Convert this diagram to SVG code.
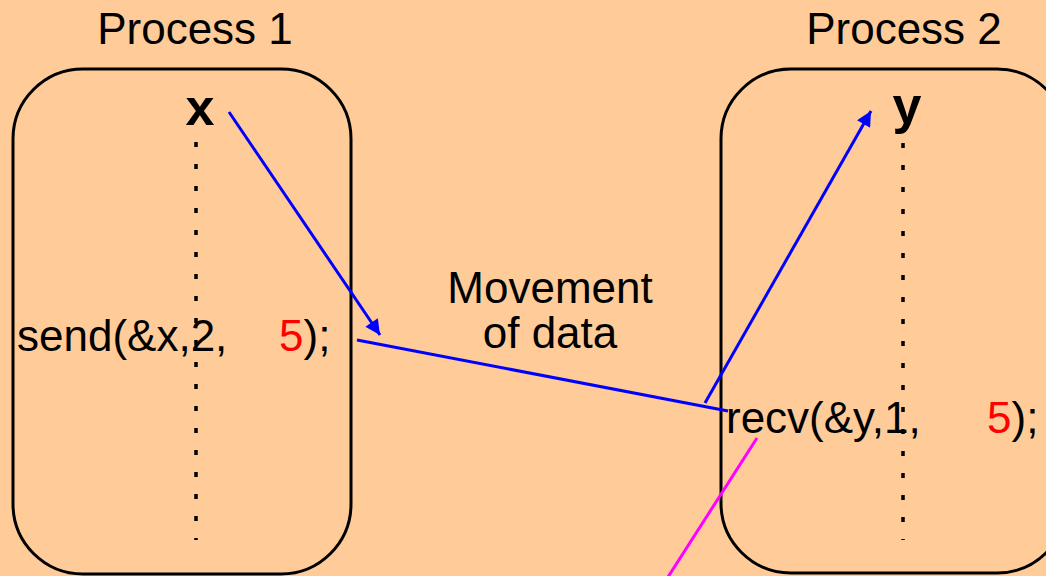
<svg xmlns="http://www.w3.org/2000/svg" width="1046" height="576" viewBox="0 0 1046 576">
<style>
.t{font-family:"Liberation Sans",Arial,sans-serif;font-size:44px;fill:#000}
.b{font-weight:bold;font-size:52px}
.r{fill:#FF0000}
.box{fill:#FFCC99;stroke:#000;stroke-width:3}
.dot{stroke:#000;stroke-width:3.5;stroke-dasharray:5 17;fill:none}
.blue{stroke:#0000FF;stroke-width:3;fill:none}
.mag{stroke:#FF00FF;stroke-width:3;fill:none}
</style>
<defs>
<marker id="ah" viewBox="0 0 10 10" refX="10" refY="5" markerWidth="6" markerHeight="5" markerUnits="strokeWidth" orient="auto">
<path d="M0,0 L10,5 L0,10 z" fill="#0000FF"/>
</marker>
</defs>
<rect width="1046" height="576" fill="#FFCC99"/>
<g id="process1">
<text class="t" x="195" y="44" text-anchor="middle">Process 1</text>
<rect class="box" x="13" y="69" width="338" height="505" rx="70" ry="70"/>
<line class="dot" x1="196" y1="142" x2="196" y2="540"/>
<text class="t b" x="200" y="125" text-anchor="middle">x</text>
<text class="t" x="17" y="351">send(&amp;x,2,</text>
<text class="t" x="279" y="351"><tspan class="r">5</tspan>);</text>
</g>
<g id="process2">
<text class="t" x="904" y="44" text-anchor="middle">Process 2</text>
<rect class="box" x="721" y="69" width="346" height="504" rx="70" ry="70"/>
<line class="dot" x1="903" y1="143" x2="903" y2="540"/>
<text class="t b" x="907" y="123" text-anchor="middle">y</text>
<text class="t" x="726" y="433">recv(&amp;y,1,</text>
<text class="t" x="987" y="433"><tspan class="r">5</tspan>);</text>
</g>
<g id="label">
<text class="t" x="550" y="303" text-anchor="middle">Movement</text>
<text class="t" x="550" y="348" text-anchor="middle">of data</text>
</g>
<g id="connectors">
<line class="blue" x1="229" y1="112" x2="380" y2="335" marker-end="url(#ah)"/>
<line class="blue" x1="357" y1="340" x2="728" y2="411"/>
<line class="blue" x1="705" y1="403" x2="871" y2="111" marker-end="url(#ah)"/>
<line class="mag" x1="757" y1="438" x2="668" y2="577"/>
</g>
</svg>
